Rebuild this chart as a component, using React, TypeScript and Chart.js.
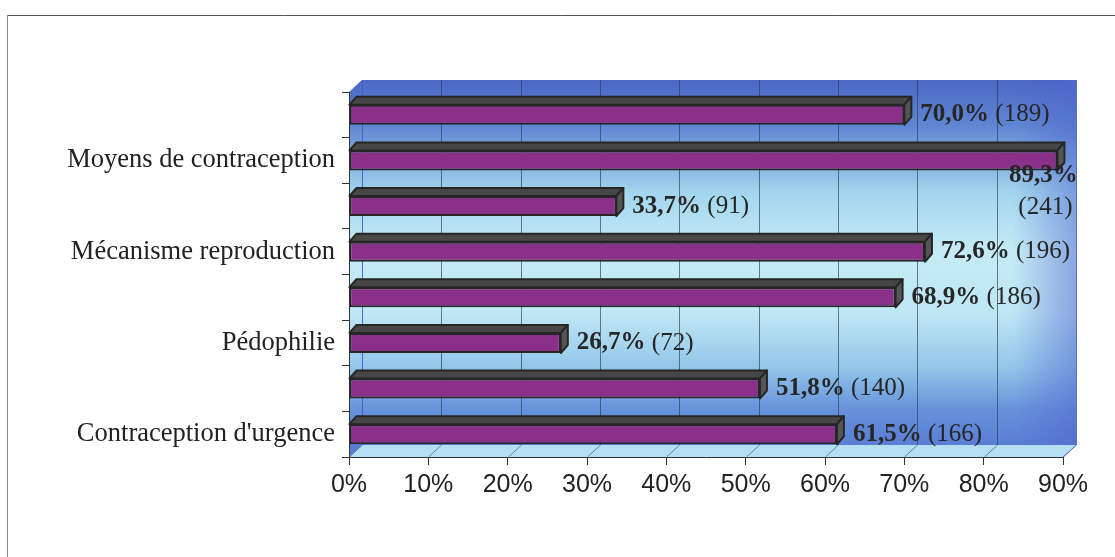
import React, { useEffect, useRef } from "react";
import { Chart, registerables } from "chart.js";

Chart.register(...registerables);

// ---- Data ----
const categories = [
  "",
  "Moyens de contraception",
  "",
  "Mécanisme reproduction",
  "",
  "Pédophilie",
  "",
  "Contraception d'urgence",
];
const percentValues = [70.0, 89.3, 33.7, 72.6, 68.9, 26.7, 51.8, 61.5];
const counts = [189, 241, 91, 196, 186, 72, 140, 166];
const xTickValues = [0, 10, 20, 30, 40, 50, 60, 70, 80, 90];

const fmtPct = (v: number) => v.toFixed(1).replace(".", ",") + "%";

const WALL_DX = 13;
const WALL_DY = 12;
const BAR_DX = 7;
const BAR_DY = 8;

const scenePlugin = {
  id: "scene3d",
  beforeDraw(chart: any) {
    const { ctx, chartArea: a, scales } = chart;
    const x = scales.x;
    const L = a.left, R = a.right, T = a.top, B = a.bottom;
    ctx.save();
    // outer frame
    ctx.lineWidth = 1;
    ctx.strokeStyle = "#8a8a8a";
    ctx.beginPath();
    ctx.moveTo(7.5, 557);
    ctx.lineTo(7.5, 15.5);
    ctx.stroke();
    ctx.strokeStyle = "#555";
    ctx.beginPath();
    ctx.moveTo(7.5, 15.5);
    ctx.lineTo(1115, 15.5);
    ctx.stroke();

    // walls
    const wall = () => {
      ctx.beginPath();
      ctx.moveTo(L, T);
      ctx.lineTo(L + WALL_DX, T - WALL_DY);
      ctx.lineTo(R + WALL_DX, T - WALL_DY);
      ctx.lineTo(R + WALL_DX, B - WALL_DY);
      ctx.lineTo(R, B);
      ctx.lineTo(L, B);
      ctx.closePath();
    };
    const g = ctx.createLinearGradient(0, T - WALL_DY, 0, B);
    g.addColorStop(0, "#4b68c4");
    g.addColorStop(0.12, "#5f86d2");
    g.addColorStop(0.3, "#a3d6ee");
    g.addColorStop(0.45, "#c4ebf5");
    g.addColorStop(0.62, "#bfe7f4");
    g.addColorStop(0.76, "#93c7ea");
    g.addColorStop(0.88, "#6590da");
    g.addColorStop(1, "#5577d2");
    wall();
    ctx.fillStyle = g;
    ctx.fill();
    const hg = ctx.createLinearGradient(R - 50, 0, R + WALL_DX, 0);
    hg.addColorStop(0, "rgba(80,100,205,0)");
    hg.addColorStop(1, "rgba(80,100,205,0.5)");
    wall();
    ctx.fillStyle = hg;
    ctx.fill();

    // floor
    ctx.beginPath();
    ctx.moveTo(L, B);
    ctx.lineTo(L + WALL_DX, B - WALL_DY);
    ctx.lineTo(R + WALL_DX, B - WALL_DY);
    ctx.lineTo(R, B);
    ctx.closePath();
    ctx.fillStyle = "#b4def2";
    ctx.fill();

    // grid lines on back wall and floor
    ctx.lineWidth = 1;
    xTickValues.forEach((v, i) => {
      const px = Math.round(x.getPixelForValue(v)) + 0.5;
      ctx.strokeStyle = i === 0 ? "rgba(70,90,200,0.9)" : "rgba(40,60,80,0.65)";
      ctx.beginPath();
      ctx.moveTo(px + WALL_DX, T - WALL_DY);
      ctx.lineTo(px + WALL_DX, B - WALL_DY);
      ctx.stroke();
      ctx.strokeStyle = "rgba(60,80,110,0.6)";
      ctx.beginPath();
      ctx.moveTo(px, B);
      ctx.lineTo(px + WALL_DX, B - WALL_DY);
      ctx.stroke();
    });
    // right edge of wall
    ctx.strokeStyle = "rgba(90,110,200,0.8)";
    ctx.beginPath();
    ctx.moveTo(R + WALL_DX + 0.5, T - WALL_DY);
    ctx.lineTo(R + WALL_DX + 0.5, B - WALL_DY);
    ctx.lineTo(R, B);
    ctx.stroke();
    ctx.restore();
  },
  afterDatasetsDraw(chart: any) {
    const { ctx } = chart;
    const meta = chart.getDatasetMeta(0);
    ctx.save();
    meta.data.forEach((bar: any, i: number) => {
      const p = bar.getProps(["x", "y", "base", "height"], true);
      const x0 = p.base;
      const x1 = p.x;
      const yT = p.y - p.height / 2;
      const yB = p.y + p.height / 2;
      ctx.lineWidth = 2;
      ctx.strokeStyle = "#262626";
      ctx.lineJoin = "round";
      // top face
      ctx.beginPath();
      ctx.moveTo(x0, yT);
      ctx.lineTo(x0 + BAR_DX, yT - BAR_DY);
      ctx.lineTo(x1 + BAR_DX, yT - BAR_DY);
      ctx.lineTo(x1, yT);
      ctx.closePath();
      ctx.fillStyle = "#474747";
      ctx.fill();
      ctx.stroke();
      // side face
      ctx.beginPath();
      ctx.moveTo(x1, yT);
      ctx.lineTo(x1 + BAR_DX, yT - BAR_DY);
      ctx.lineTo(x1 + BAR_DX, yB - BAR_DY);
      ctx.lineTo(x1, yB);
      ctx.closePath();
      ctx.fillStyle = "#555555";
      ctx.fill();
      ctx.stroke();

      // labels
      const pct = fmtPct(percentValues[i]);
      const cnt = "(" + counts[i] + ")";
      const boldFont = "bold 25px 'Liberation Serif', 'Times New Roman', serif";
      const normFont = "25px 'Liberation Serif', 'Times New Roman', serif";
      ctx.fillStyle = "#262626";
      ctx.textBaseline = "middle";
      ctx.font = boldFont;
      const w1 = ctx.measureText(pct + " ").width;
      ctx.font = normFont;
      const w2 = ctx.measureText(cnt).width;
      const sx = x1 + BAR_DX + 9;
      if (sx + w1 + w2 > chart.width - 12) {
        ctx.textAlign = "center";
        ctx.font = boldFont;
        ctx.fillText(pct, x1 - 14, p.y + 15);
        ctx.font = normFont;
        ctx.fillText(cnt, x1 - 12, p.y + 47);
      } else {
        ctx.textAlign = "left";
        ctx.font = boldFont;
        ctx.fillText(pct, sx, p.y);
        ctx.font = normFont;
        ctx.fillText(cnt, sx + w1, p.y);
      }
    });
    ctx.restore();
  },
};

export default function App() {
  const ref = useRef<HTMLCanvasElement | null>(null);
  useEffect(() => {
    if (!ref.current) return;
    const chart = new Chart(ref.current, {
      type: "bar",
      data: {
        labels: categories,
        datasets: [
          {
            data: percentValues,
            backgroundColor: "#8b3088",
            borderColor: "#262626",
            borderWidth: 2,
            borderSkipped: false,
            barPercentage: 0.44,
            categoryPercentage: 1,
          },
        ],
      },
      options: {
        indexAxis: "y",
        responsive: false,
        animation: false,
        layout: { padding: { left: 0, top: 92, right: 52, bottom: 50 } },
        plugins: {
          legend: { display: false },
          tooltip: { enabled: false },
        },
        scales: {
          x: {
            min: 0,
            max: 90,
            afterFit: (s: any) => {
              s.height = 50;
            },
            afterBuildTicks: (s: any) => {
              s.ticks = xTickValues.map((v) => ({ value: v }));
            },
            ticks: {
              callback: (v: any) => v + "%",
              font: { family: "'Liberation Sans', Arial, sans-serif", size: 25 },
              color: "#222",
              padding: 5,
              maxRotation: 0,
            },
            grid: {
              drawOnChartArea: false,
              drawTicks: true,
              tickLength: 8,
              color: "#333",
            },
            border: { display: true, color: "#333", width: 1 },
          },
          y: {
            afterFit: (s: any) => {
              s.width = 349;
            },
            ticks: {
              autoSkip: false,
              font: { family: "'Liberation Serif', 'Times New Roman', serif", size: 26.5 },
              color: "#222",
              padding: 7,
            },
            grid: {
              drawOnChartArea: false,
              drawTicks: true,
              tickLength: 7,
              color: "#333",
              offset: true,
            },
            border: { display: true, color: "#333", width: 1 },
          },
        },
      },
      plugins: [scenePlugin],
    });
    return () => chart.destroy();
  }, []);
  return (
    <div style={{ position: "absolute", left: 0, top: 0, width: 1115, height: 557, background: "#fff" }}>
      <canvas ref={ref} width={1115} height={557} style={{ display: "block" }} />
    </div>
  );
}
